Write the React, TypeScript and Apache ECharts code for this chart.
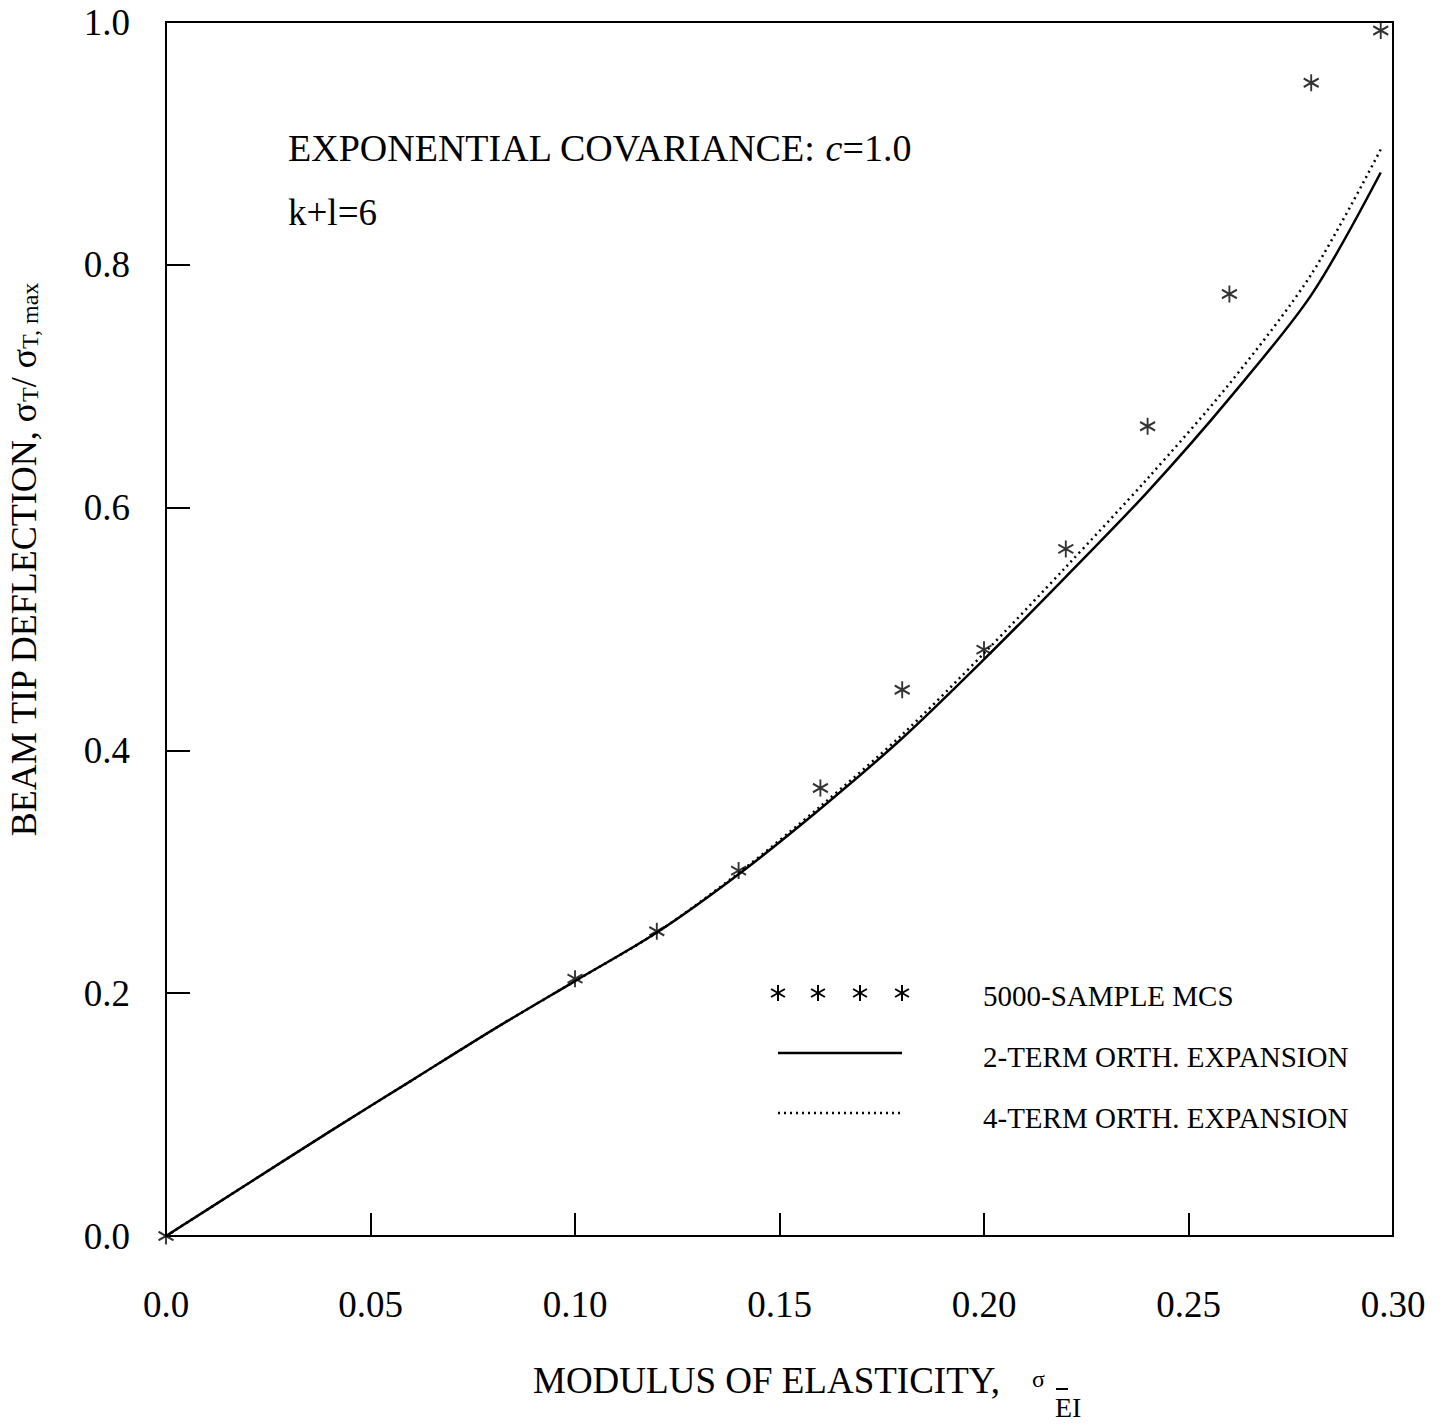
import React, { useEffect, useRef } from "react";
import * as echarts from "echarts";

// ---- data ----
const xTicks = [0, 0.05, 0.1, 0.15, 0.2, 0.25, 0.3];
const yTicks = [0, 0.2, 0.4, 0.6, 0.8, 1.0];

const mcsX = [0, 0.1, 0.12, 0.14, 0.16, 0.18, 0.2, 0.22, 0.24, 0.26, 0.28, 0.297];
const mcsY = [0, 0.212, 0.251, 0.301, 0.369, 0.45, 0.483, 0.566, 0.667, 0.776, 0.95, 0.993];

const curveX = [0, 0.02, 0.04, 0.06, 0.08, 0.1, 0.12, 0.14, 0.16, 0.18, 0.2, 0.22, 0.24, 0.26, 0.28, 0.297];
const twoTermY = [0, 0.043, 0.086, 0.128, 0.17, 0.21, 0.25, 0.298, 0.352, 0.41, 0.475, 0.543, 0.613, 0.69, 0.775, 0.876];
const fourTermY = [0, 0.043, 0.086, 0.128, 0.17, 0.21, 0.25, 0.299, 0.354, 0.413, 0.48, 0.551, 0.624, 0.702, 0.792, 0.895];

const legendLabels = ["5000-SAMPLE MCS", "2-TERM ORTH. EXPANSION", "4-TERM ORTH. EXPANSION"];
const annotation1 = ["EXPONENTIAL COVARIANCE: ", "c", "=1.0"];
const annotation2 = "k+l=6";

const FONT = '"Liberation Serif", "Times New Roman", serif';
const STAR = "path://M0,-10L0,10M-8.66,-5L8.66,5M-8.66,5L8.66,-5";

function starLines(cx: number, cy: number, r: number) {
  const out: any[] = [];
  const angles = [90, 30, -30];
  for (const a of angles) {
    const rad = (a * Math.PI) / 180;
    const dx = Math.cos(rad) * r;
    const dy = Math.sin(rad) * r;
    out.push({
      type: "line",
      shape: { x1: cx - dx, y1: cy - dy, x2: cx + dx, y2: cy + dy },
      style: { stroke: "#000", lineWidth: 2 },
    });
  }
  return out;
}

export default function App() {
  const ref = useRef<HTMLDivElement>(null);
  useEffect(() => {
    if (!ref.current) return;
    const chart = echarts.init(ref.current, undefined, { renderer: "svg" });
    const legendStars = [778, 818, 860, 902].flatMap((x) => starLines(x, 993, 8));
    chart.setOption({
      animation: false,
      backgroundColor: "#fff",
      grid: {
        left: 166,
        top: 22,
        right: 52,
        bottom: 191,
        show: true,
        borderColor: "#000",
        borderWidth: 2,
        backgroundColor: "transparent",
      },
      xAxis: {
        type: "value",
        min: 0,
        max: 0.3,
        interval: 0.05,
        axisLine: { lineStyle: { color: "#000", width: 2 } },
        axisTick: { inside: true, length: 23, lineStyle: { color: "#000", width: 2 } },
        splitLine: { show: false },
        axisLabel: {
          margin: 50,
          fontSize: 37,
          fontFamily: FONT,
          color: "#000",
          formatter: (v: number) => (v === 0 ? "0.0" : v.toFixed(2)),
        },
      },
      yAxis: {
        type: "value",
        min: 0,
        max: 1,
        interval: 0.2,
        axisLine: { lineStyle: { color: "#000", width: 2 } },
        axisTick: { inside: true, length: 24, lineStyle: { color: "#000", width: 2 } },
        splitLine: { show: false },
        axisLabel: {
          margin: 36,
          fontSize: 37,
          fontFamily: FONT,
          color: "#000",
          formatter: (v: number) => v.toFixed(1),
        },
      },
      series: [
        {
          name: "2-TERM ORTH. EXPANSION",
          type: "line",
          data: curveX.map((x, i) => [x, twoTermY[i]]),
          showSymbol: false,
          smooth: 0.3,
          lineStyle: { color: "#000", width: 2.5 },
        },
        {
          name: "4-TERM ORTH. EXPANSION",
          type: "line",
          data: curveX.map((x, i) => [x, fourTermY[i]]),
          showSymbol: false,
          smooth: 0.3,
          lineStyle: { color: "#000", width: 2.5, type: [2, 4] },
        },
        {
          name: "5000-SAMPLE MCS",
          type: "scatter",
          data: mcsX.map((x, i) => [x, mcsY[i]]),
          symbol: STAR,
          symbolSize: [15, 17],
          itemStyle: { color: "transparent", borderColor: "#000", borderWidth: 2 },
          z: 5,
        },
      ],
      graphic: [
        {
          type: "text",
          x: 288,
          y: 148,
          style: {
            text: `{a|${annotation1[0]}}{i|${annotation1[1]}}{a|${annotation1[2]}}`,
            verticalAlign: "middle",
            rich: {
              a: { fontFamily: FONT, fontSize: 38, fill: "#000" },
              i: { fontFamily: FONT, fontSize: 38, fontStyle: "italic", fill: "#000" },
            },
          },
        },
        {
          type: "text",
          x: 288,
          y: 212,
          style: { text: annotation2, font: `37px ${FONT}`, fill: "#000", verticalAlign: "middle" },
        },
        // legend
        ...legendStars,
        {
          type: "line",
          shape: { x1: 778, y1: 1053, x2: 902, y2: 1053 },
          style: { stroke: "#000", lineWidth: 2.5 },
        },
        {
          type: "line",
          shape: { x1: 778, y1: 1113, x2: 902, y2: 1113 },
          style: { stroke: "#000", lineWidth: 2.5, lineDash: [2, 4] },
        },
        ...legendLabels.map((t, i) => ({
          type: "text",
          x: 983,
          y: 996 + i * 61,
          style: { text: t, font: `29px ${FONT}`, fill: "#000", verticalAlign: "middle" },
        })),
        // x axis title
        {
          type: "text",
          x: 533,
          y: 1380,
          style: { text: "MODULUS OF ELASTICITY,", font: `37px ${FONT}`, fill: "#000", verticalAlign: "middle" },
        },
        {
          type: "text",
          x: 1032,
          y: 1379,
          style: { text: "σ", font: `24px ${FONT}`, fill: "#000", verticalAlign: "middle" },
        },
        {
          type: "text",
          x: 1055,
          y: 1407,
          style: { text: "EI", font: `28px ${FONT}`, fill: "#000", verticalAlign: "middle" },
        },
        {
          type: "line",
          shape: { x1: 1056, y1: 1389, x2: 1068, y2: 1389 },
          style: { stroke: "#000", lineWidth: 2 },
        },
        // y axis title
        {
          type: "text",
          x: 24,
          y: 560,
          rotation: Math.PI / 2,
          style: {
            text: "{a|BEAM TIP DEFLECTION, σ}{s|T}{a|/ σ}{s|T, max}",
            align: "center",
            verticalAlign: "middle",
            rich: {
              a: { fontFamily: FONT, fontSize: 36, fill: "#000" },
              s: { fontFamily: FONT, fontSize: 24, fill: "#000", padding: [12, 0, 0, 0] },
            },
          },
        },
      ],
    });
    return () => chart.dispose();
  }, []);
  return (
    <div
      ref={ref}
      style={{ position: "absolute", left: 0, top: 0, width: 1445, height: 1427 }}
    />
  );
}
